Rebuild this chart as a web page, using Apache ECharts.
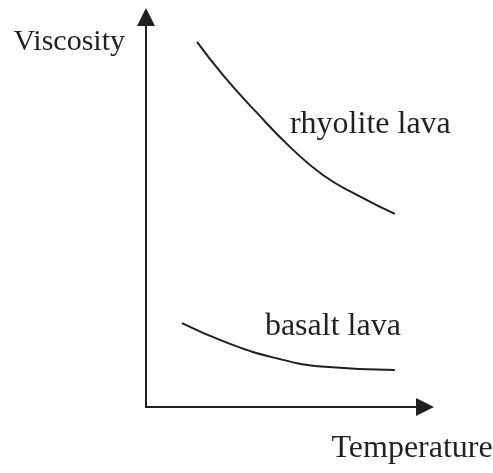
<!DOCTYPE html>
<html>
<head>
<meta charset="utf-8">
<script src="https://cdn.jsdelivr.net/npm/echarts@6/dist/echarts.min.js"></script>
<style>
  html, body { margin: 0; padding: 0; background: #fff; }
  #chart { width: 493px; height: 473px; }
</style>
</head>
<body>
<div id="chart"></div>
<script>
// values (arbitrary units, 0-100 on both axes)
var rhyoliteX = [18.3, 27.6, 39.8, 51.6, 63.4, 75.6, 89.2];
var rhyoliteY = [93.6, 85.1, 75.4, 66.7, 59.5, 54.4, 49.5];
var basaltX = [12.9, 28.3, 46.2, 64.2, 89.2];
var basaltY = [21.5, 16.7, 12.6, 10.3, 9.5];
var axisNames = ["Temperature", "Viscosity"];
var seriesNames = ["rhyolite lava", "basalt lava"];

var font = "Liberation Serif";
var ink = "#231f20";

function pairs(xs, ys, labelIdx, label) {
  return xs.map(function (x, i) {
    var item = { value: [x, ys[i]] };
    if (i === labelIdx) item.label = label;
    return item;
  });
}

var chart = echarts.init(document.getElementById("chart"));

var option = {
  animation: false,
  grid: { left: 146, right: 68, top: 17, bottom: 66, outerBoundsMode: "none" },
  xAxis: {
    type: "value",
    min: 0,
    max: 100,
    name: axisNames[0],
    nameLocation: "middle",
    nameGap: 26,
    nameTextStyle: {
      fontFamily: font, fontSize: 32, color: ink,
      align: "left", padding: [0, 0, 0, 46]
    },
    axisLine: {
      symbol: ["none", "triangle"],
      symbolSize: [18, 18],
      lineStyle: { color: ink, width: 2 }
    },
    axisTick: { show: false },
    axisLabel: { show: false },
    splitLine: { show: false }
  },
  yAxis: {
    type: "value",
    min: 0,
    max: 100,
    name: axisNames[1],
    nameLocation: "end",
    nameGap: -25,
    nameTextStyle: {
      fontFamily: font, fontSize: 30, color: ink,
      align: "right", verticalAlign: "middle", padding: [0, 21, 0, 0]
    },
    axisLine: {
      symbol: ["none", "triangle"],
      symbolSize: [18, 18],
      lineStyle: { color: ink, width: 2 }
    },
    axisTick: { show: false },
    axisLabel: { show: false },
    splitLine: { show: false }
  },
  series: [
    {
      name: seriesNames[0],
      type: "line",
      smooth: true,
      showSymbol: true,
      symbol: "circle",
      symbolSize: 0,
      lineStyle: { color: ink, width: 2 },
      data: pairs(rhyoliteX, rhyoliteY, 3, {
        show: true, position: "right", distance: 0, offset: [0, -22],
        formatter: seriesNames[0],
        fontFamily: font, fontSize: 32, color: ink
      })
    },
    {
      name: seriesNames[1],
      type: "line",
      smooth: true,
      showSymbol: true,
      symbol: "circle",
      symbolSize: 0,
      lineStyle: { color: ink, width: 2 },
      data: pairs(basaltX, basaltY, 2, {
        show: true, position: "right", distance: 0, offset: [-10, -31],
        formatter: seriesNames[1],
        fontFamily: font, fontSize: 32, color: ink
      })
    }
  ]
};

chart.setOption(option);
</script>
</body>
</html>
